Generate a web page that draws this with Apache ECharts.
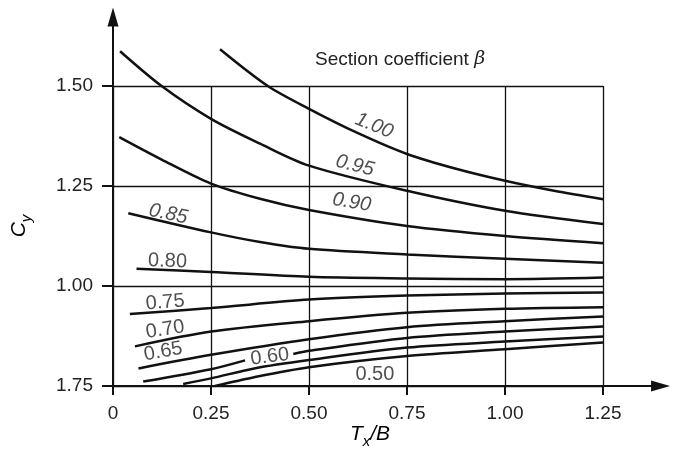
<!DOCTYPE html>
<html>
<head>
<meta charset="utf-8">
<title>Cy vs Tx/B</title>
<script src="https://cdn.jsdelivr.net/npm/echarts@6/dist/echarts.min.js"></script>
<style>
html, body { margin: 0; padding: 0; background: #fff; }
#chartDom { width: 674px; height: 460px; }
</style>
</head>
<body>
<div id="chartDom"></div>
<script type="text/javascript">
// tick values and their printed labels (bottom label is printed 1.75 in the source)
var xTicks = [0, 0.25, 0.5, 0.75, 1.0, 1.25];
var xTickLabels = ['0', '0.25', '0.50', '0.75', '1.00', '1.25'];
var yTicks = [0.75, 1.0, 1.25, 1.5];
var yTickLabels = ['1.75', '1.00', '1.25', '1.50'];

// one curve per section coefficient, points are [Tx/B, Cy]
var beta100 = [[0.273, 1.592], [0.395, 1.50], [0.5, 1.443], [0.625, 1.382], [0.75, 1.330], [0.875, 1.293], [1.0, 1.263], [1.125, 1.238], [1.25, 1.217]];
var beta095 = [[0.018, 1.587], [0.124, 1.50], [0.25, 1.418], [0.375, 1.356], [0.5, 1.301], [0.75, 1.238], [1.0, 1.188], [1.25, 1.155]];
var beta090 = [[0.016, 1.372], [0.124, 1.316], [0.25, 1.256], [0.375, 1.218], [0.5, 1.190], [0.75, 1.150], [1.0, 1.125], [1.25, 1.107]];
var beta085 = [[0.039, 1.182], [0.25, 1.134], [0.375, 1.110], [0.5, 1.093], [0.75, 1.079], [1.0, 1.068], [1.25, 1.058]];
var beta080 = [[0.06, 1.043], [0.25, 1.035], [0.5, 1.023], [0.75, 1.019], [1.0, 1.017], [1.25, 1.021]];
var beta075 = [[0.043, 0.930], [0.25, 0.945], [0.5, 0.966], [0.75, 0.976], [1.0, 0.981], [1.25, 0.984]];
var beta070 = [[0.056, 0.849], [0.25, 0.886], [0.5, 0.912], [0.75, 0.933], [1.0, 0.943], [1.25, 0.947]];
var beta065 = [[0.065, 0.794], [0.25, 0.828], [0.5, 0.867], [0.75, 0.897], [1.0, 0.912], [1.25, 0.924]];
// gap where the "0.60" label sits on the line
var beta060 = [[0.077, 0.761], [0.25, 0.792], [0.337, 0.814], [0.40, '-'], [0.46, 0.830], [0.5, 0.838], [0.75, 0.870], [1.0, 0.886], [1.25, 0.899]];
var beta055 = [[0.179, 0.755], [0.25, 0.769], [0.36, 0.794], [0.5, 0.815], [0.75, 0.846], [1.0, 0.861], [1.25, 0.874]];
var beta050 = [[0.26, 0.750], [0.36, 0.772], [0.5, 0.797], [0.75, 0.825], [1.0, 0.842], [1.25, 0.859]];

// curve labels: text and where they sit (data units)
var curveLabelText = ['1.00', '0.95', '0.90', '0.85', '0.80', '0.75', '0.70', '0.65', '0.60', '0.50'];
var curveLabelX = [0.666, 0.617, 0.609, 0.141, 0.139, 0.133, 0.133, 0.128, 0.400, 0.668];
var curveLabelY = [1.401, 1.301, 1.209, 1.180, 1.062, 0.959, 0.891, 0.836, 0.823, 0.779];
</script>
<script type="text/javascript">
	var fontName = '"Liberation Sans", Arial, sans-serif';
	var ink = '#111';
	// label styles (rotation in degrees, italic or not)
	var labelRotate = [-22, -14, -9, -12, -2, 5, 9, 10, 7, 0];
	var labelItalic = [true, true, true, true, false, false, false, false, false, false];

	function tickText(ticks, labels) {
		return function(v) {
			for (var i = 0; i < ticks.length; i++) {
				if (Math.abs(ticks[i] - v) < 1e-6) {
					return labels[i];
				}
			}
			return '';
		};
	}

	function curve(name, data) {
		return {
			name : name,
			type : 'line',
			data : data,
			smooth : 0.3,
			showSymbol : false,
			symbol : 'none',
			connectNulls : false,
			clip : false,
			lineStyle : {
				color : ink,
				width : 2.5
			},
			z : 3
		};
	}

	var labelData = [];
	for (var i = 0; i < curveLabelText.length; i++) {
		labelData.push({
			value : [ curveLabelX[i], curveLabelY[i] ],
			name : curveLabelText[i],
			label : {
				rotate : labelRotate[i],
				fontStyle : labelItalic[i] ? 'italic' : 'normal'
			}
		});
	}

	var myChart = echarts.init(document.getElementById('chartDom'));
	var option = {
		animation : false,
		backgroundColor : '#fff',
		title : {
			text : 'Section coefficient {b|β}',
			left : 310,
			top : 45,
			textStyle : {
				fontFamily : fontName,
				fontSize : 19,
				fontWeight : 'normal',
				color : '#222',
				rich : {
					b : {
						fontFamily : '"DejaVu Serif", serif',
						fontStyle : 'italic',
						fontSize : 19,
						color : '#222'
					}
				}
			}
		},
		grid : {
			left : 113,
			right : 71,
			top : 86,
			bottom : 74,
			containLabel : false
		},
		xAxis : {
			type : 'value',
			min : 0,
			max : 1.25,
			interval : 0.25,
			axisLine : {
				lineStyle : {
					color : ink,
					width : 2
				}
			},
			axisTick : {
				show : true,
				length : 9,
				lineStyle : {
					color : ink,
					width : 2
				}
			},
			axisLabel : {
				margin : 18,
				fontSize : 19,
				fontFamily : fontName,
				color : '#222',
				formatter : tickText(xTicks, xTickLabels)
			},
			splitLine : {
				show : true,
				lineStyle : {
					color : ink,
					width : 1.3
				}
			}
		},
		yAxis : {
			type : 'value',
			min : 0.75,
			max : 1.5,
			interval : 0.25,
			axisLine : {
				show : true,
				lineStyle : {
					color : ink,
					width : 2
				}
			},
			axisTick : {
				show : true,
				length : 11,
				lineStyle : {
					color : ink,
					width : 2
				}
			},
			axisLabel : {
				margin : 20,
				fontSize : 19,
				fontFamily : fontName,
				color : '#222',
				formatter : tickText(yTicks, yTickLabels)
			},
			splitLine : {
				show : true,
				lineStyle : {
					color : ink,
					width : 1.3
				}
			}
		},
		series : [ curve('1.00', beta100), curve('0.95', beta095),
				curve('0.90', beta090), curve('0.85', beta085),
				curve('0.80', beta080), curve('0.75', beta075),
				curve('0.70', beta070), curve('0.65', beta065),
				curve('0.60', beta060), curve('0.55', beta055),
				curve('0.50', beta050), {
					name : 'labels',
					type : 'scatter',
					symbolSize : 1,
					clip : false,
					itemStyle : {
						color : 'rgba(0,0,0,0)'
					},
					data : labelData,
					label : {
						show : true,
						position : 'inside',
						formatter : '{b}',
						fontSize : 20,
						fontFamily : fontName,
						color : '#222'
					},
					z : 5
				} ]
	};
	myChart.setOption(option);

	// axis arrows past the frame, placed through the chart's own scales
	var yArrowEnd = 1.696;
	var xArrowEnd = 1.421;
	var pY0 = myChart.convertToPixel({ gridIndex : 0 }, [ 0, 1.5 ]);
	var pY1 = myChart.convertToPixel({ gridIndex : 0 }, [ 0, yArrowEnd ]);
	var pX0 = myChart.convertToPixel({ gridIndex : 0 }, [ 1.25, 0.75 ]);
	var pX1 = myChart.convertToPixel({ gridIndex : 0 }, [ xArrowEnd, 0.75 ]);

	myChart.setOption({
		graphic : [ {
			type : 'line',
			shape : { x1 : pY0[0], y1 : pY0[1], x2 : pY1[0], y2 : pY1[1] + 10 },
			style : { stroke : ink, lineWidth : 2 }
		}, {
			type : 'polygon',
			shape : {
				points : [ [ pY1[0], pY1[1] ], [ pY1[0] - 5.5, pY1[1] + 19 ],
						[ pY1[0] + 5.5, pY1[1] + 19 ] ]
			},
			style : { fill : ink }
		}, {
			type : 'line',
			shape : { x1 : pX0[0], y1 : pX0[1], x2 : pX1[0] - 10, y2 : pX1[1] },
			style : { stroke : ink, lineWidth : 2 }
		}, {
			type : 'polygon',
			shape : {
				points : [ [ pX1[0], pX1[1] ], [ pX1[0] - 19, pX1[1] - 5.5 ],
						[ pX1[0] - 19, pX1[1] + 5.5 ] ]
			},
			style : { fill : ink }
		}, {
			// C_y axis title
			type : 'text',
			x : 27,
			y : 226,
			rotation : Math.PI / 2,
			style : {
				text : '{m|C}{s|y}',
				align : 'center',
				verticalAlign : 'middle',
				rich : {
					m : { fontFamily : fontName, fontStyle : 'italic', fontSize : 21, color : '#222', lineHeight : 24, verticalAlign : 'top' },
					s : { fontFamily : fontName, fontStyle : 'italic', fontSize : 15, color : '#222', lineHeight : 36, verticalAlign : 'middle' }
				}
			}
		}, {
			// T_x/B axis title
			type : 'text',
			x : 370,
			y : 442,
			style : {
				text : '{m|T}{s|x}{m|/B}',
				align : 'center',
				verticalAlign : 'middle',
				rich : {
					m : { fontFamily : fontName, fontStyle : 'italic', fontSize : 21, color : '#222', lineHeight : 24, verticalAlign : 'top' },
					s : { fontFamily : fontName, fontStyle : 'italic', fontSize : 15, color : '#222', lineHeight : 36, verticalAlign : 'middle' }
				}
			}
		} ]
	});
</script>
</body>
</html>
